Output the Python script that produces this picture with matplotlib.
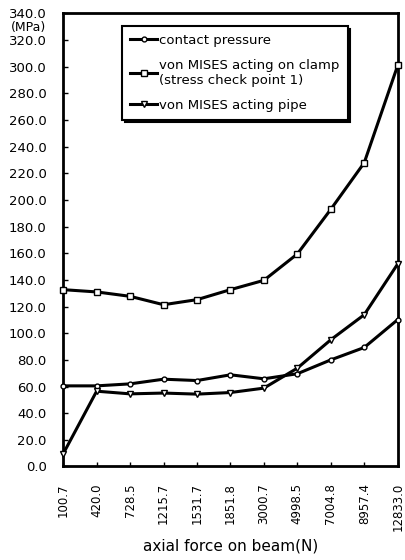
import numpy as np
import matplotlib
matplotlib.use('Agg')
import matplotlib.pyplot as plt

plt.rcParams['font.family'] = ['DejaVu Sans']

# 데이터
x_labels = ['100.7', '420.0', '728.5', '1215.7', '1531.7', '1851.8',
            '3000.7', '4998.5', '7004.8', '8957.4', '12833.0']
contact = [60.5, 60.5, 62.0, 65.5, 64.5, 68.8, 65.8, 69.6, 80.0, 89.3, 110.2]
clamp = [132.7, 131.0, 127.7, 121.4, 125.2, 132.7, 139.7, 159.5, 193.0, 228.0, 301.0]
pipe = [9.5, 56.5, 54.5, 55.1, 54.3, 55.5, 58.8, 73.8, 95.1, 113.9, 152.0]
y_ticks = np.arange(0, 341, 20)

fig = plt.figure(figsize=(4.05, 5.6), dpi=100)
ax = fig.add_axes([0.156, 0.167, 0.826, 0.809])

xs = np.arange(len(x_labels))
line_kw = dict(color='black', lw=2.2, mfc='white', mec='black', mew=1.0, clip_on=False, zorder=3)
ax.plot(xs, contact, marker='o', ms=3.5, label='contact pressure', **line_kw)
ax.plot(xs, clamp, marker='s', ms=5, label='von MISES acting on clamp\n(stress check point 1)', **line_kw)
ax.plot(xs, pipe, marker='v', ms=4, label='von MISES acting pipe', **line_kw)

ax.set_xlim(0, len(x_labels) - 1)
ax.set_ylim(0, 340)
ax.set_yticks(y_ticks)
ax.set_yticklabels([f'{v:.1f}' for v in y_ticks], fontsize=9.5)
ax.set_xticks(xs)
ax.set_xticklabels(x_labels, rotation=90, fontsize=8.5)

ax.tick_params(axis='y', direction='in', length=3.5, width=1, pad=12)
ax.tick_params(axis='x', direction='in', length=3, width=1, pad=12)
for sp in ax.spines.values():
    sp.set_linewidth(2)

ax.set_xlabel('axial force on beam(N)', fontsize=11, labelpad=5)

# 단위 표시
ax.annotate('(MPa)', xy=(0, 340), xycoords=('axes fraction', 'data'),
            xytext=(-12.2, -10), textcoords='offset points',
            ha='right', va='center', fontsize=9)

leg = ax.legend(loc='upper left', bbox_to_anchor=(0.177, 0.972), borderaxespad=0,
                fontsize=9.5, handlelength=2.0, handletextpad=0.2, labelspacing=0.9,
                borderpad=0.6, fancybox=False, frameon=True,
                shadow={'color': 'black', 'alpha': 1})
leg.get_frame().set_edgecolor('black')
leg.get_frame().set_linewidth(1.5)

fig.savefig('out.png', dpi=100)
